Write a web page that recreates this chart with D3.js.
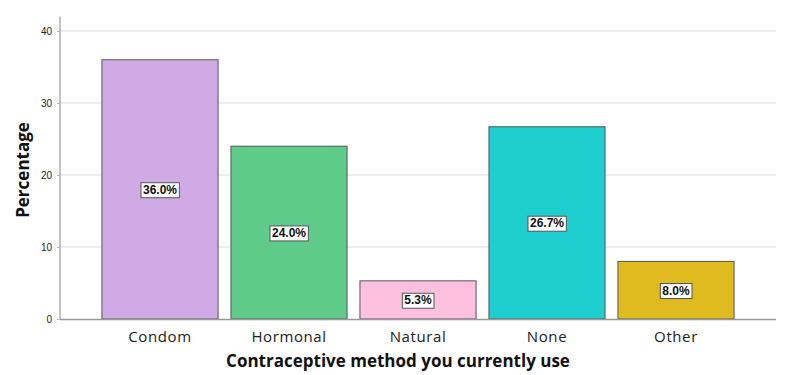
<!DOCTYPE html>
<html><head><meta charset="utf-8">
<script src="https://cdn.jsdelivr.net/npm/d3@7"></script>
<style>body{margin:0;background:#fff}</style>
</head><body>
<svg id="c" width="794" height="375"></svg>
<script>
const categories = ["Condom","Hormonal","Natural","None","Other"];
const values = [36.0, 24.0, 5.3, 26.7, 8.0];
const colors = ["#d0aae4","#5fcb8a","#fdc0df","#1ecece","#e0bb1f"];
const yTicks = [0,10,20,30,40];
const xTitle = "Contraceptive method you currently use";
const yTitle = "Percentage";

const svg = d3.select("#c");
const y = d3.scaleLinear().domain([0,42]).range([319,16.6]);
const x = d3.scaleBand().domain(categories).range([95.5,740.5]).paddingInner(0.1).paddingOuter(0.05);
const left = 60, right = 776;

// grid
svg.append("g").selectAll("line").data(yTicks.filter(d=>d>0)).join("line")
  .attr("x1",left).attr("x2",right).attr("y1",d=>y(d)).attr("y2",d=>y(d))
  .attr("stroke","#dcdcdc").attr("stroke-width",1);

// y axis
const ya = svg.append("g").attr("transform",`translate(${left},0)`)
  .call(d3.axisLeft(y).tickValues(yTicks).tickSize(3).tickPadding(5));
ya.select(".domain").attr("stroke","#888").attr("d",`M0,${y(42)}V${y(0)}`);
ya.selectAll(".tick line").attr("stroke","#bbb");
ya.selectAll("text").attr("font-family","Liberation Sans, Arial, sans-serif").attr("font-size",10).attr("fill","#222");

// bars
svg.append("g").selectAll("rect").data(categories).join("rect")
  .attr("x",d=>x(d)).attr("width",x.bandwidth())
  .attr("y",(d,i)=>y(values[i])).attr("height",(d,i)=>y(0)-y(values[i]))
  .attr("fill",(d,i)=>colors[i]).attr("stroke","#555").attr("stroke-width",1);

// baseline
svg.append("line").attr("x1",left).attr("x2",right).attr("y1",y(0)+0.5).attr("y2",y(0)+0.5)
  .attr("stroke","#999").attr("stroke-width",1.5);

// value labels
const lg = svg.append("g").selectAll("g").data(categories).join("g")
  .attr("transform",(d,i)=>`translate(${x(d)+x.bandwidth()/2},${(y(values[i])+y(0))/2})`);
lg.append("text").attr("text-anchor","middle").attr("dy","0.36em")
  .attr("font-family","Liberation Sans, Arial, sans-serif").attr("font-weight","bold").attr("font-size",12)
  .attr("fill","#111").text((d,i)=>values[i].toFixed(1)+"%");
lg.each(function(){
  const g = d3.select(this), bb = g.select("text").node().getBBox();
  g.insert("rect","text").attr("x",bb.x-2).attr("y",bb.y).attr("width",bb.width+4).attr("height",bb.height+1)
    .attr("fill","#fff").attr("stroke","#555").attr("stroke-width",1);
});

// x category labels
svg.append("g").selectAll("text").data(categories).join("text")
  .attr("x",d=>x(d)+x.bandwidth()/2).attr("y",342).attr("text-anchor","middle")
  .attr("font-family","Open Sans, sans-serif").attr("font-size",15).attr("letter-spacing","0.6")
  .attr("fill","#222").text(d=>d);

// titles
svg.append("text").attr("x",398).attr("y",367).attr("text-anchor","middle")
  .attr("font-family","Open Sans, sans-serif").attr("font-weight","bold").attr("font-size",17).attr("fill","#111").text(xTitle);
svg.append("text").attr("transform","translate(29,170) rotate(-90)").attr("text-anchor","middle")
  .attr("font-family","Open Sans, sans-serif").attr("font-weight","bold").attr("font-size",17).attr("fill","#111").text(yTitle);
</script>
</body></html>
